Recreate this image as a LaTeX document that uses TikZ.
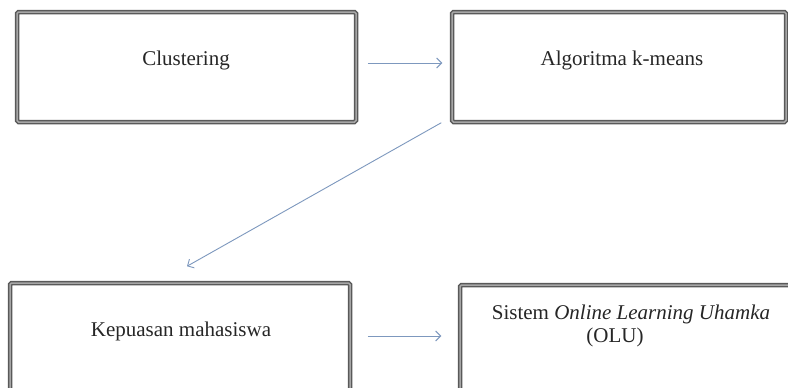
\documentclass[tikz,border=0pt]{standalone}
\usepackage{fontspec}
\setmainfont{Liberation Serif}
\usetikzlibrary{arrows.meta}
\definecolor{arrowblue}{RGB}{125,152,190}
\begin{document}
\begin{tikzpicture}[x=1pt,y=-1pt,
  box/.style={draw=black!65, double=black!35, line width=1.5pt, double distance=1.5pt,
    rounded corners=1.5pt, rectangle, inner sep=0pt},
  lbl/.style={font=\fontsize{21}{25}\selectfont, text=black!85, inner sep=0pt, anchor=base},
  conn/.style={draw=arrowblue, line width=0.9pt,
    -{Straight Barb[length=5pt,width=10pt,line width=0.9pt]}}]
\useasboundingbox (0,0) rectangle (788,388);
\clip (0,0) rectangle (788,388);
\fill[white] (0,0) rectangle (788,388);
% boxes
\node[box, minimum width=339pt, minimum height=110pt] (b1) at (186.5,67) {};
\node[box, minimum width=334pt, minimum height=110pt] (b2) at (619,67) {};
\node[box, minimum width=340pt, minimum height=112pt] (b3) at (180,339) {};
\node[box, minimum width=340pt, minimum height=112pt] (b4) at (630,341) {};
% labels
\node[lbl] (t1) at (186,65) {Clustering};
\node[lbl] (t2) at (622,65) {Algoritma k-means};
\node[lbl] (t3) at (181,336) {Kepuasan mahasiswa};
\node[lbl] (t4) at (631,319) {Sistem \textit{Online Learning Uhamka}};
\node[lbl] (t5) at (615,342) {(OLU)};
% connectors
\coordinate (s2) at ([xshift=-10pt]b2.south west);
\coordinate (e2) at ([xshift=7pt,yshift=16pt]b3.north);
\draw[conn, shorten <=11pt, shorten >=9pt] (b1.east |- 0,63) -- (b2.west |- 0,63);
\draw[conn] (s2) -- (e2);
\draw[conn, shorten <=17pt, shorten >=18pt] (b3.east |- 0,336) -- (b4.west |- 0,336);
\end{tikzpicture}
\end{document}
